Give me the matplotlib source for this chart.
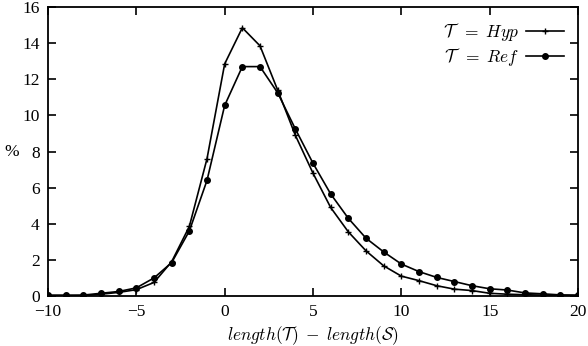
import matplotlib.pyplot as plt

plt.rcParams['font.family'] = 'Liberation Serif'
plt.rcParams['mathtext.fontset'] = 'cm'

# length(T) - length(S)
diff = list(range(-10, 21))

# T = Hyp
hyp = [0.0, 0.0, 0.02, 0.1, 0.2, 0.35, 0.75, 1.9, 3.85, 7.6, 12.85, 14.85, 13.85,
       11.4, 8.9, 6.8, 4.9, 3.55, 2.5, 1.67, 1.1, 0.85, 0.57, 0.38, 0.3, 0.15,
       0.1, 0.07, 0.05, 0.03, 0.02]
# T = Ref
ref = [0.05, 0.05, 0.05, 0.15, 0.25, 0.45, 1.0, 1.85, 3.6, 6.4, 10.55, 12.7, 12.7,
       11.25, 9.25, 7.35, 5.65, 4.3, 3.2, 2.44, 1.77, 1.35, 1.03, 0.8, 0.57, 0.4,
       0.33, 0.17, 0.12, 0.06, 0.05]

fig = plt.figure(figsize=(5.88, 3.46), dpi=100)
ax = fig.add_axes([48 / 588, 1 - 296 / 346, 530 / 588, 289 / 346])

ax.plot(diff, hyp, color='black', lw=1.2, marker='+', ms=5, mew=1.0,
        label=r'$\mathcal{T}\ \;=\;Hyp$')
ax.plot(diff, ref, color='black', lw=1.2, marker='o', ms=4,
        label=r'$\mathcal{T}\ \;=\;Ref$')

ax.set_xlim(-10, 20)
ax.set_ylim(0, 16)
ax.set_xticks(range(-10, 21, 5))
ax.set_yticks(range(0, 17, 2))
ax.tick_params(direction='in', top=True, right=True, length=6, width=1.2,
               labelsize=12.5, pad=6)
for s in ax.spines.values():
    s.set_linewidth(1.3)

ax.set_xlabel(r'$length(\mathcal{T})\;-\;length(\mathcal{S})$', fontsize=12.5, labelpad=3)
ax.set_ylabel('%', fontsize=12.5, rotation=0, ha='center', va='center')
ax.yaxis.set_label_coords(-0.069, 0.5)

ax.legend(loc='upper right', frameon=False, markerfirst=False, fontsize=12.5,
          handlelength=2.2, handletextpad=0.4, borderaxespad=0.4, labelspacing=0.2)

fig.savefig('out.png', dpi=100)
